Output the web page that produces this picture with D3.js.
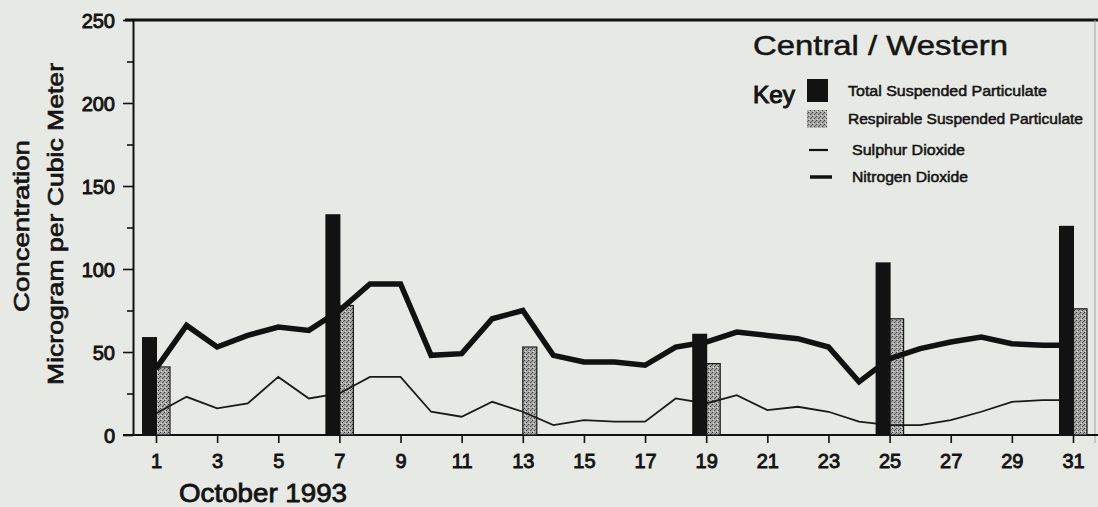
<!DOCTYPE html>
<html>
<head>
<meta charset="utf-8">
<script src="https://cdn.jsdelivr.net/npm/d3@7"></script>
<style>
  body { margin: 0; background: #e7e9e4; }
  svg { display: block; }
  text { font-family: "Liberation Sans", Arial, sans-serif; fill: #151515; }
</style>
</head>
<body>
<script>
'use strict';

// days of October 1993
const days = d3.range(1, 32);
// nitrogen dioxide, daily
const no2 = [40, 66, 53, 60, 65, 63, 75, 91, 91, 48, 49, 70, 75, 48, 44, 44, 42, 53, 56, 62,
             60, 58, 53, 32, 46, 52, 56, 59, 55, 54, 54];
// sulphur dioxide, daily
const so2 = [13, 23, 16, 19, 35, 22, 25, 35, 35, 14, 11, 20, 14, 6, 9, 8, 8, 22, 19, 24,
             15, 17, 14, 8, 6, 6, 9, 14, 20, 21, 21];
// particulates, sampled every sixth day
const tspDays = [1, 7, 19, 25, 31];
const tsp = [59, 133, 61, 104, 126];
const rspDays = [1, 7, 13, 19, 25, 31];
const rsp = [41, 78, 53, 43, 70, 76];

const xTicks = [1, 3, 5, 7, 9, 11, 13, 15, 17, 19, 21, 23, 25, 27, 29, 31];
const yTicks = [0, 50, 100, 150, 200, 250];
const yMinor = [25, 75, 125, 175, 225];

const title = "Central / Western";
const legendLabels = ["Total Suspended Particulate", "Respirable Suspended Particulate",
                      "Sulphur Dioxide", "Nitrogen Dioxide"];

(function() {
  const width = 1098, height = 507;
  const svg = d3.select('body').append('svg')
    .attr('width', width)
    .attr('height', height);

  // stipple fill for respirable particulates
  const pat = svg.append('defs').append('pattern')
    .attr('id', 'stipple')
    .attr('width', 4).attr('height', 4)
    .attr('patternUnits', 'userSpaceOnUse');
  pat.append('rect').attr('width', 4).attr('height', 4).attr('fill', '#a9a9a7');
  pat.append('rect').attr('x', 0).attr('y', 0).attr('width', 1).attr('height', 1).attr('fill', '#333');
  pat.append('rect').attr('x', 2).attr('y', 2).attr('width', 1).attr('height', 1).attr('fill', '#404040');
  pat.append('rect').attr('x', 3).attr('y', 1).attr('width', 1).attr('height', 1).attr('fill', '#666');
  pat.append('rect').attr('x', 1).attr('y', 3).attr('width', 1).attr('height', 1).attr('fill', '#dcdcda');

  const x = d3.scaleLinear().domain([1, 31]).range([156, 1073]);
  const y = d3.scaleLinear().domain([0, 250]).range([435, 20]);
  const axisX = 133;
  const ink = '#141414';

  // frame: top line and faint right edge
  svg.append('line')
    .attr('x1', 125).attr('x2', width)
    .attr('y1', y(250)).attr('y2', y(250))
    .attr('stroke', '#111').attr('stroke-width', 3);
  svg.append('line')
    .attr('x1', width - 3).attr('x2', width - 3)
    .attr('y1', y(250)).attr('y2', y(0) + 8)
    .attr('stroke', '#a5a5a5').attr('stroke-width', 1);

  // y axis
  const yAxis = svg.append('g')
    .attr('transform', 'translate(' + axisX + ',0)')
    .call(d3.axisLeft(y).tickValues(yTicks).tickSize(10).tickPadding(8).tickSizeOuter(0));
  svg.append('g')
    .attr('transform', 'translate(' + axisX + ',0)')
    .call(d3.axisLeft(y).tickValues(yMinor).tickSize(6).tickFormat('').tickSizeOuter(0))
    .call((g) => g.selectAll('line').attr('stroke', '#111').attr('stroke-width', 1.6))
    .select('.domain').remove();

  // x axis
  const xAxis = svg.append('g')
    .attr('transform', 'translate(0,' + y(0) + ')')
    .call(d3.axisBottom(x).tickValues(xTicks).tickSize(8).tickPadding(11));
  xAxis.select('.domain').remove();
  svg.append('line')
    .attr('x1', 123).attr('x2', width)
    .attr('y1', y(0)).attr('y2', y(0))
    .attr('stroke', '#111').attr('stroke-width', 2);

  [yAxis, xAxis].forEach(function(g) {
    g.selectAll('.tick line').attr('stroke', '#111').attr('stroke-width', 1.6);
    g.selectAll('.domain').attr('stroke', '#111').attr('stroke-width', 2);
    g.selectAll('text')
      .style('font-family', '"Liberation Sans", Arial, sans-serif')
      .style('font-size', '20px')
      .attr('fill', ink)
      .attr('stroke', ink).attr('stroke-width', 0.9);
  });
  yAxis.selectAll('text').attr('dy', '0.36em');

  // respirable particulate bars (stippled)
  svg.selectAll('.rsp')
    .data(rsp)
    .enter()
    .append('rect')
      .attr('class', 'rsp')
      .attr('x', (d, i) => x(rspDays[i]))
      .attr('y', (d) => y(d))
      .attr('width', 14)
      .attr('height', (d) => y(0) - y(d))
      .attr('fill', 'url(#stipple)')
      .attr('stroke', '#1a1a1a')
      .attr('stroke-width', 1.2);

  // pollutant lines
  const line = d3.line()
    .x((d, i) => x(days[i]))
    .y((d) => y(d));
  svg.append('path')
    .attr('d', line(so2))
    .attr('fill', 'none')
    .attr('stroke', '#1a1a1a')
    .attr('stroke-width', 1.8);
  svg.append('path')
    .attr('d', line(no2))
    .attr('fill', 'none')
    .attr('stroke', '#111')
    .attr('stroke-width', 5.5);

  // total particulate bars (black)
  svg.selectAll('.tsp')
    .data(tsp)
    .enter()
    .append('rect')
      .attr('class', 'tsp')
      .attr('x', (d, i) => x(tspDays[i]) - 14)
      .attr('y', (d) => y(d))
      .attr('width', 15)
      .attr('height', (d) => y(0) - y(d))
      .attr('fill', '#121212');

  // axis titles
  svg.append('text')
    .attr('x', 179).attr('y', 502)
    .attr('textLength', 168).attr('lengthAdjust', 'spacingAndGlyphs')
    .style('font-size', '25px')
    .attr('stroke', ink).attr('stroke-width', 0.8)
    .text('October 1993');
  svg.append('text')
    .attr('transform', 'translate(29,226)rotate(-90)')
    .attr('text-anchor', 'middle')
    .attr('textLength', 172).attr('lengthAdjust', 'spacingAndGlyphs')
    .style('font-size', '22px')
    .attr('stroke', ink).attr('stroke-width', 0.7)
    .text('Concentration');
  svg.append('text')
    .attr('transform', 'translate(63,224)rotate(-90)')
    .attr('text-anchor', 'middle')
    .attr('textLength', 322).attr('lengthAdjust', 'spacingAndGlyphs')
    .style('font-size', '22px')
    .attr('stroke', ink).attr('stroke-width', 0.7)
    .text('Microgram per Cubic Meter');

  // title and key
  svg.append('text')
    .attr('x', 753).attr('y', 55)
    .attr('textLength', 255).attr('lengthAdjust', 'spacingAndGlyphs')
    .style('font-size', '28px')
    .attr('stroke', ink).attr('stroke-width', 0.5)
    .text(title);
  svg.append('text')
    .attr('x', 753).attr('y', 103)
    .attr('textLength', 42).attr('lengthAdjust', 'spacingAndGlyphs')
    .style('font-size', '23px')
    .attr('stroke', ink).attr('stroke-width', 1)
    .text('Key');

  const legendRows = [91, 119, 150, 177];
  const legendWidths = [199, 235, 113, 116];
  const key = svg.append('g');
  key.append('rect').attr('x', 807).attr('y', legendRows[0] - 12).attr('width', 21).attr('height', 23).attr('fill', '#121212');
  key.append('rect').attr('x', 807).attr('y', legendRows[1] - 9).attr('width', 20).attr('height', 18)
    .attr('fill', 'url(#stipple)');
  key.append('line').attr('x1', 809).attr('x2', 828).attr('y1', legendRows[2]).attr('y2', legendRows[2])
    .attr('stroke', '#111').attr('stroke-width', 2.2);
  key.append('line').attr('x1', 810).attr('x2', 832).attr('y1', legendRows[3]).attr('y2', legendRows[3])
    .attr('stroke', '#111').attr('stroke-width', 3.5);
  key.selectAll('.lbl')
    .data(legendLabels)
    .enter()
    .append('text')
      .attr('class', 'lbl')
      .attr('x', (d, i) => i < 2 ? 848 : 852)
      .attr('y', (d, i) => legendRows[i] + 5)
      .attr('textLength', (d, i) => legendWidths[i])
      .attr('lengthAdjust', 'spacingAndGlyphs')
      .style('font-size', '14px')
      .attr('stroke', ink).attr('stroke-width', 0.5)
      .text((d) => d);
})();
</script>
</body>
</html>
